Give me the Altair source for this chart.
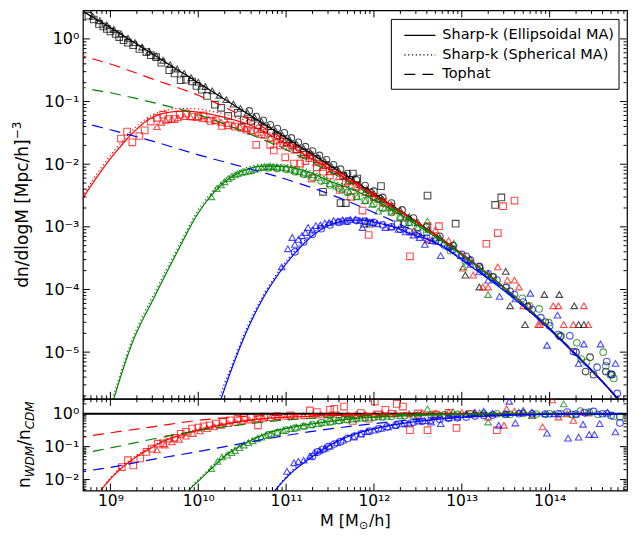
import altair as alt
import pandas as pd

# ---------------- data (log10 M, log10 value) ----------------
# top panel curves: dn/dlogM
CDM_LM = [8.687, 9.0, 9.5, 10.0, 10.5, 11.0, 11.5, 12.0, 12.5, 13.0, 13.5, 14.0, 14.25, 14.5, 14.75, 14.88]
CDM_LN = [0.44, 0.18, -0.26, -0.70, -1.14, -1.58, -2.02, -2.47, -2.93, -3.43, -3.99, -4.62, -4.97, -5.32, -5.70, -5.92]

RS_LM = [8.60, 8.69, 8.8, 8.9, 9.0, 9.1, 9.2, 9.3, 9.4, 9.5, 9.6, 9.7, 9.8, 9.9, 10.0, 10.2, 10.4, 10.6, 10.8, 11.0, 11.25, 11.5, 12.0, 12.5, 13.0, 13.5, 14.0, 14.25, 14.5, 14.75, 14.88]
RS_LN = [-2.78, -2.54, -2.30, -2.10, -1.91, -1.74, -1.58, -1.44, -1.32, -1.24, -1.19, -1.165, -1.155, -1.155, -1.17, -1.22, -1.29, -1.38, -1.52, -1.67, -1.88, -2.08, -2.50, -2.945, -3.43, -3.99, -4.62, -4.97, -5.32, -5.70, -5.92]
RD_LM = [8.60, 8.69, 8.8, 8.9, 9.0, 9.1, 9.2, 9.3, 9.4, 9.5, 9.6, 9.7, 9.8, 9.9, 10.0, 10.2, 10.4, 10.6, 10.8, 11.0, 11.25, 11.5, 12.0, 12.5, 13.0]
RD_LN = [-2.74, -2.50, -2.25, -2.05, -1.86, -1.69, -1.53, -1.39, -1.28, -1.20, -1.15, -1.12, -1.11, -1.11, -1.12, -1.17, -1.24, -1.34, -1.49, -1.64, -1.86, -2.07, -2.49, -2.94, -3.43]
RT_LM = [8.60, 8.69, 9.0, 9.5, 10.0, 10.5, 11.0, 11.5, 12.0, 12.5, 13.0, 13.5, 14.0, 14.5, 14.88]
RT_LN = [-0.22, -0.27, -0.40, -0.65, -0.90, -1.23, -1.62, -2.035, -2.475, -2.93, -3.43, -3.99, -4.62, -5.32, -5.92]

GS_LM = [8.95, 9.0, 9.25, 9.5, 9.75, 10.0, 10.25, 10.5, 10.75, 11.0, 11.25, 11.5, 11.75, 12.0, 12.5, 13.0, 13.5, 14.0, 14.25, 14.5, 14.75, 14.88]
GS_LN = [-6.15, -5.92, -4.85, -4.12, -3.43, -2.78, -2.35, -2.11, -2.03, -2.04, -2.12, -2.27, -2.40, -2.57, -2.98, -3.45, -4.00, -4.62, -4.97, -5.32, -5.70, -5.92]
GD_LM = [8.95, 9.0, 9.25, 9.5, 9.75, 10.0, 10.25, 10.5, 10.75, 11.0, 11.25, 11.5, 11.75, 12.0, 12.5, 13.0]
GD_LN = [-6.10, -5.86, -4.79, -4.06, -3.38, -2.73, -2.31, -2.08, -2.00, -2.01, -2.09, -2.24, -2.38, -2.56, -2.97, -3.45]
GT_LM = [8.60, 8.69, 9.0, 9.5, 10.0, 10.5, 11.0, 11.5, 12.0, 12.5, 13.0, 13.5, 14.0, 14.5, 14.88]
GT_LN = [-0.72, -0.77, -0.86, -1.02, -1.21, -1.47, -1.77, -2.12, -2.52, -2.95, -3.44, -3.99, -4.62, -5.32, -5.92]

BS_LM = [10.18, 10.26, 10.38, 10.56, 10.75, 10.94, 11.12, 11.31, 11.5, 11.68, 11.87, 12.05, 12.24, 12.43, 12.61, 12.8, 13.0, 13.5, 14.0, 14.25, 14.5, 14.75, 14.88]
BS_LN = [-6.05, -5.74, -5.27, -4.64, -4.11, -3.70, -3.39, -3.13, -2.97, -2.90, -2.89, -2.94, -3.01, -3.12, -3.20, -3.33, -3.53, -4.04, -4.64, -4.98, -5.33, -5.70, -5.92]
BD_LM = [10.16, 10.22, 10.38, 10.56, 10.75, 10.94, 11.12, 11.31, 11.5, 11.68, 11.87, 12.05, 12.24, 12.43, 12.61, 12.8, 13.0]
BD_LN = [-6.05, -5.80, -5.22, -4.59, -4.07, -3.66, -3.35, -3.09, -2.93, -2.86, -2.86, -2.92, -3.00, -3.10, -3.19, -3.31, -3.52]
BT_LM = [8.60, 8.69, 9.0, 9.5, 10.0, 10.5, 11.0, 11.5, 12.0, 12.5, 13.0, 13.5, 14.0, 14.5, 14.88]
BT_LN = [-1.28, -1.33, -1.45, -1.64, -1.85, -2.04, -2.24, -2.48, -2.77, -3.10, -3.51, -4.02, -4.63, -5.32, -5.92]

# bottom panel curves: n_WDM / n_CDM
R_RS_LM = [8.82, 8.89, 9.0, 9.15, 9.3, 9.45, 9.63, 9.86, 10.15, 10.45, 10.75, 11.27, 11.75, 12.5, 13.0, 14.88]
R_RS_LN = [-2.55, -2.33, -1.98, -1.60, -1.30, -1.06, -0.81, -0.60, -0.40, -0.25, -0.15, -0.08, -0.04, -0.015, 0.0, 0.0]
R_RD_LM = [8.84, 8.9, 9.0, 9.15, 9.3, 9.45, 9.63, 9.86, 10.15, 10.45, 10.75, 11.27, 11.75, 12.5, 13.0, 14.88]
R_RD_LN = [-2.45, -2.28, -1.95, -1.55, -1.26, -1.02, -0.78, -0.57, -0.37, -0.22, -0.13, -0.06, -0.03, -0.01, 0.0, 0.0]
R_RT_LM = [8.60, 8.67, 9.0, 9.5, 10.0, 10.5, 11.0, 11.5, 12.0, 12.5, 14.88]
R_RT_LN = [-0.74, -0.71, -0.58, -0.39, -0.20, -0.09, -0.04, -0.015, -0.005, 0.0, 0.0]
R_GS_LM = [9.82, 9.89, 10.0, 10.15, 10.34, 10.53, 10.75, 11.09, 11.46, 11.76, 12.0, 12.5, 13.0, 13.5, 14.0, 14.88]
R_GS_LN = [-2.55, -2.33, -2.05, -1.67, -1.21, -0.91, -0.63, -0.40, -0.25, -0.15, -0.10, -0.05, -0.02, -0.01, 0.0, 0.0]
R_GD_LM = [9.84, 9.9, 10.0, 10.15, 10.34, 10.53, 10.75, 11.09, 11.46, 11.76, 12.0, 12.5, 13.0, 14.88]
R_GD_LN = [-2.45, -2.28, -2.00, -1.62, -1.17, -0.87, -0.60, -0.38, -0.23, -0.14, -0.09, -0.04, -0.01, 0.0]
R_GT_LM = [8.60, 8.67, 9.0, 9.5, 10.0, 10.5, 11.0, 11.5, 12.0, 12.5, 13.0, 13.5, 14.88]
R_GT_LN = [-1.25, -1.21, -1.04, -0.76, -0.51, -0.33, -0.19, -0.10, -0.05, -0.02, -0.01, 0.0, 0.0]
R_BS_LM = [10.80, 10.86, 11.05, 11.27, 11.5, 11.76, 12.0, 12.31, 12.69, 13.06, 13.4, 13.8, 14.2, 14.88]
R_BS_LN = [-2.55, -2.37, -1.82, -1.36, -0.96, -0.64, -0.46, -0.30, -0.18, -0.10, -0.06, -0.03, -0.01, 0.0]
R_BD_LM = [10.82, 10.88, 11.05, 11.27, 11.5, 11.76, 12.0, 12.31, 12.69, 13.06, 13.4, 13.8, 14.2, 14.88]
R_BD_LN = [-2.50, -2.30, -1.77, -1.31, -0.92, -0.61, -0.44, -0.28, -0.17, -0.09, -0.05, -0.02, 0.0, 0.0]
R_BT_LM = [8.60, 8.67, 9.0, 9.5, 10.0, 10.5, 11.0, 11.5, 12.0, 12.5, 13.0, 13.5, 14.0, 14.88]
R_BT_LN = [-1.81, -1.77, -1.63, -1.38, -1.15, -0.90, -0.66, -0.46, -0.30, -0.17, -0.08, -0.03, -0.01, 0.0]
UNITY = [1.0]

# top panel simulation points
K_SQ_LM = [8.75, 8.81, 8.87, 8.92, 8.96, 9.00, 9.06, 9.10, 9.15, 9.20, 9.26, 9.33, 9.41, 9.46, 9.52, 9.58, 9.67, 9.73, 9.80, 9.86, 9.93, 9.98, 10.04, 10.10, 10.19, 10.26, 10.34, 10.45, 10.52, 10.60, 10.68, 10.75, 10.83, 10.90, 10.96, 11.01, 11.07, 11.12, 11.20, 11.27, 11.35, 11.45, 11.55, 11.65, 11.72, 11.95, 12.05,
           11.42, 11.62, 11.68, 11.76, 11.81, 12.08, 12.61, 13.45, 13.38, 12.93, 11.89, 11.95, 12.27, 12.35]
K_SQ_LN = [0.37, 0.31, 0.24, 0.20, 0.16, 0.12, 0.08, 0.03, -0.02, -0.06, -0.10, -0.16, -0.21, -0.26, -0.29, -0.38, -0.50, -0.55, -0.66, -0.65, -0.68, -0.75, -0.81, -0.91, -1.05, -1.10, -1.23, -1.18, -1.30, -1.31, -1.38, -1.44, -1.50, -1.55, -1.60, -1.65, -1.70, -1.76, -1.81, -1.86, -1.92, -2.01, -2.10, -2.19, -2.25, -2.45, -2.55,
           -2.44, -2.62, -2.62, -2.15, -2.23, -2.35, -2.50, -2.53, -2.65, -2.95, -2.95, -2.95, -2.96, -2.96]
K_TR_LM = [8.80, 8.88, 8.96, 9.04, 9.12, 9.20, 9.28, 9.36, 9.44, 9.52, 9.60, 9.68, 9.76, 9.84, 9.92, 10.00, 10.08, 10.16, 10.24, 10.32, 10.40, 10.48, 10.56, 10.64, 10.72, 10.80, 10.88, 10.96, 11.04, 11.12, 11.20, 11.28, 11.36, 11.44, 11.52, 11.60, 11.68, 11.76, 11.84, 11.92, 12.00, 12.10, 12.20, 12.30, 12.40, 12.50, 12.62, 12.75, 12.88,
           13.04, 13.20, 13.50, 13.55, 13.72, 13.94, 14.11, 14.28, 14.33, 14.39, 13.10, 13.30]
K_TR_LN = [0.36, 0.29, 0.22, 0.15, 0.08, 0.01, -0.06, -0.13, -0.20, -0.27, -0.34, -0.41, -0.48, -0.55, -0.62, -0.69, -0.76, -0.83, -0.90, -0.97, -1.04, -1.11, -1.18, -1.25, -1.32, -1.40, -1.47, -1.54, -1.61, -1.68, -1.75, -1.82, -1.89, -1.96, -2.04, -2.11, -2.18, -2.26, -2.33, -2.40, -2.47, -2.56, -2.65, -2.74, -2.84, -2.93, -3.04, -3.17, -3.31,
           -3.77, -3.96, -3.71, -4.26, -4.56, -4.08, -4.08, -4.26, -4.56, -4.56, -3.52, -3.75]
K_CI_LM = [10.58, 10.66, 10.74, 10.82, 10.90, 10.98, 11.06, 11.14, 11.22, 11.30, 11.38, 11.46, 11.54, 11.62, 11.70, 11.80, 11.90, 12.00, 12.10, 12.20, 12.32, 12.45, 12.60, 12.75, 12.90, 13.05, 13.20, 13.35, 13.55, 13.75, 13.95, 14.12, 14.41, 14.50, 14.64, 14.71, 14.46, 14.30]
K_CI_LN = [-1.15, -1.24, -1.30, -1.37, -1.43, -1.50, -1.58, -1.65, -1.72, -1.79, -1.86, -1.93, -2.01, -2.08, -2.15, -2.25, -2.34, -2.43, -2.53, -2.62, -2.73, -2.86, -3.00, -3.15, -3.30, -3.47, -3.64, -3.80, -4.03, -4.27, -4.52, -4.75, -5.31, -5.36, -5.31, -5.36, -5.08, -5.00]
R_SQ_LM = [9.12, 9.19, 9.25, 9.33, 9.39, 9.46, 9.53, 9.60, 9.66, 9.73, 9.79, 9.86, 9.93, 10.00, 10.06, 10.14, 10.20, 10.27, 10.34, 10.42, 10.49, 10.55, 10.60, 10.66, 10.72, 10.82, 10.86, 10.93, 10.99, 11.09, 11.16, 11.22, 11.29, 11.35, 11.42, 11.50, 11.61, 11.68, 11.74, 11.80, 11.87, 11.94, 12.00, 12.10, 12.20, 12.41, 12.61, 12.74, 13.28, 13.41, 13.47, 13.60]
R_SQ_LN = [-1.59, -1.48, -1.65, -1.55, -1.46, -1.32, -1.26, -1.21, -1.28, -1.28, -1.21, -1.19, -1.24, -1.24, -1.22, -1.31, -1.30, -1.39, -1.38, -1.40, -1.42, -1.45, -1.47, -1.69, -1.52, -1.69, -1.78, -1.70, -1.89, -1.99, -1.99, -1.95, -2.23, -2.05, -2.12, -2.18, -2.41, -2.30, -2.52, -2.36, -2.74, -3.13, -2.52, -2.60, -2.68, -3.47, -2.99, -2.99, -3.27, -3.10, -2.67, -2.58]
R_TR_LM = [9.53, 9.58, 9.63, 9.70, 9.77, 9.84, 9.91, 9.98, 10.05, 10.12, 10.19, 10.26, 10.33, 10.40, 10.47, 10.54, 10.61, 10.68, 10.75, 10.82, 10.89, 10.96, 11.03, 11.10, 11.18, 11.26, 11.34, 11.42, 11.50, 11.60, 11.70, 11.80, 11.90, 12.00, 12.12, 12.24, 12.36, 12.45, 12.61, 12.70, 12.85,
           13.01, 13.13, 13.24, 13.30, 13.41, 13.52, 13.60, 13.65, 13.70, 13.76, 13.87, 13.89, 14.04, 14.10, 14.16, 14.27, 14.39, 14.44]
R_TR_LN = [-1.40, -1.33, -1.30, -1.28, -1.26, -1.24, -1.24, -1.25, -1.27, -1.28, -1.30, -1.33, -1.35, -1.37, -1.40, -1.43, -1.46, -1.50, -1.54, -1.58, -1.63, -1.67, -1.73, -1.78, -1.85, -1.91, -1.98, -2.05, -2.12, -2.20, -2.28, -2.37, -2.45, -2.53, -2.63, -2.74, -2.84, -3.07, -3.21, -3.05, -3.22,
           -3.66, -3.77, -3.96, -3.96, -3.64, -3.85, -3.85, -3.96, -4.26, -4.26, -4.56, -4.56, -4.26, -4.26, -4.56, -4.56, -4.26, -4.56]
G_TR_LM = [10.15, 10.21, 10.26, 10.30, 10.34, 10.38, 10.42, 10.45, 10.49, 10.53, 10.57, 10.60, 10.64, 10.68, 10.72, 10.75, 10.79, 10.82, 10.86, 10.90, 10.95, 11.00, 11.05, 11.10, 11.15, 11.20, 11.25, 11.31, 11.37, 11.44, 11.50, 11.57, 11.64, 11.72, 11.81, 11.90, 11.98, 12.05, 12.12, 12.20, 12.30, 12.40, 12.50, 12.61, 12.70, 12.80, 12.91, 13.02, 13.30]
G_TR_LN = [-2.52, -2.39, -2.33, -2.28, -2.23, -2.20, -2.17, -2.15, -2.13, -2.12, -2.11, -2.10, -2.08, -2.06, -2.05, -2.04, -2.04, -2.03, -2.04, -2.05, -2.05, -2.06, -2.08, -2.10, -2.12, -2.14, -2.16, -2.17, -2.21, -2.26, -2.31, -2.35, -2.40, -2.44, -2.52, -2.58, -2.64, -2.75, -2.70, -2.76, -2.84, -2.93, -3.01, -2.91, -3.18, -3.25, -3.26, -3.64, -4.08]
G_CI_LM = [10.80, 10.90, 11.00, 11.10, 11.20, 11.30, 11.40, 11.50, 11.60, 11.70, 11.80, 11.90, 12.00, 12.10, 12.20, 12.30, 12.40, 12.50, 12.60, 12.70, 12.87, 13.04, 13.21, 13.36, 13.51, 13.69, 13.77, 13.88, 13.99, 14.13, 14.31, 14.36, 14.42, 14.61, 14.64, 14.69, 14.73]
G_CI_LN = [-2.06, -2.07, -2.08, -2.12, -2.16, -2.21, -2.27, -2.33, -2.38, -2.45, -2.51, -2.58, -2.63, -2.70, -2.77, -2.85, -2.93, -3.01, -3.09, -3.18, -3.38, -3.54, -3.67, -3.80, -3.96, -4.14, -4.26, -4.31, -4.53, -4.74, -4.85, -5.11, -5.16, -5.00, -5.22, -5.36, -5.42]
B_TR_LM = [10.95, 11.02, 11.07, 11.10, 11.14, 11.18, 11.22, 11.25, 11.30, 11.34, 11.39, 11.44, 11.49, 11.54, 11.59, 11.64, 11.68, 11.73, 11.79, 11.84, 11.87, 11.92, 11.98, 12.04, 12.13, 12.20, 12.28, 12.36, 12.45, 12.52, 12.58, 12.66, 12.76, 12.85, 12.99, 13.10, 13.20, 13.30, 13.43, 13.61, 13.78, 13.97, 14.09, 14.33, 14.39, 14.58, 14.75]
B_TR_LN = [-3.64, -3.35, -3.17, -3.28, -3.20, -3.14, -3.09, -3.01, -3.05, -2.98, -2.97, -2.94, -2.93, -2.90, -2.91, -2.89, -2.91, -2.88, -2.88, -2.90, -3.01, -2.91, -2.93, -2.95, -3.01, -3.00, -3.04, -3.08, -3.13, -3.17, -3.28, -3.22, -3.46, -3.32, -3.46, -3.60, -3.72, -3.85, -4.11, -4.15, -4.06, -4.89, -4.41, -5.18, -4.87, -4.87, -5.18]
B_CI_LM = [11.10, 11.20, 11.30, 11.40, 11.50, 11.60, 11.70, 11.80, 11.90, 12.00, 12.10, 12.20, 12.30, 12.40, 12.50, 12.60, 12.70, 12.80, 12.90, 13.00, 13.10, 13.20, 13.30, 13.40, 13.50, 13.60, 13.70, 13.80, 13.90, 14.00, 14.10, 14.23, 14.27, 14.54, 14.65, 14.70, 14.77]
B_CI_LN = [-3.40, -3.24, -3.12, -3.03, -2.97, -2.93, -2.91, -2.90, -2.91, -2.93, -2.97, -3.00, -3.04, -3.08, -3.12, -3.18, -3.23, -3.29, -3.36, -3.44, -3.53, -3.63, -3.75, -3.85, -3.97, -4.08, -4.20, -4.32, -4.45, -4.58, -4.72, -4.74, -4.99, -5.24, -5.15, -5.35, -5.66]

# bottom panel simulation points (ratios)
RR_SQ_LM = [9.13, 9.20, 9.26, 9.34, 9.41, 9.47, 9.54, 9.60, 9.67, 9.73, 9.80, 9.86, 9.93, 10.00, 10.06, 10.13, 10.20, 10.28, 10.36, 10.45, 10.52, 10.60, 10.68, 10.75, 10.90, 11.05, 11.27, 11.35, 11.50, 11.55, 11.66, 11.76, 11.85, 11.94, 12.01, 12.05, 12.13, 12.20, 12.26, 12.33, 12.41, 12.50, 12.61, 12.70, 12.85, 12.94, 13.10, 13.40]
RR_SQ_LN = [-1.62, -1.41, -1.57, -1.36, -1.16, -1.06, -0.91, -0.90, -0.76, -0.73, -0.61, -0.55, -0.45, -0.42, -0.38, -0.35, -0.30, -0.25, -0.20, -0.15, -0.13, -0.11, -0.35, -0.09, -0.07, -0.05, 0.10, 0.05, 0.12, 0.15, 0.22, -0.22, 0.02, -0.15, 0.37, -0.02, 0.12, 0.00, 0.30, 0.22, -0.50, 0.01, -0.50, -0.02, 0.03, -0.43, 0.00, -0.50]
RR_TR_LM = [9.53, 9.62, 9.70, 9.78, 9.86, 9.94, 10.02, 10.10, 10.18, 10.26, 10.34, 10.42, 10.50, 10.58, 10.66, 10.74, 10.82, 10.90, 11.0, 11.1, 11.2, 11.3, 11.4, 11.5, 11.6, 11.7, 11.8, 11.9, 12.0, 12.1, 12.25, 12.4, 12.55, 12.7, 12.85, 13.0, 13.15, 13.3, 13.48, 13.51, 13.6, 13.7, 13.8, 13.92, 14.03, 14.10, 14.2, 14.27, 14.37, 14.44]
RR_TR_LN = [-1.10, -0.95, -0.85, -0.78, -0.68, -0.60, -0.52, -0.45, -0.40, -0.35, -0.30, -0.26, -0.22, -0.19, -0.16, -0.14, -0.12, -0.10, -0.08, -0.07, -0.06, -0.05, -0.04, -0.04, -0.03, -0.03, -0.02, -0.02, -0.01, -0.01, 0.00, 0.00, 0.03, 0.02, 0.05, 0.04, 0.00, -0.10, -0.35, 0.15, 0.08, 0.04, -0.05, -0.40, 0.42, -0.10, 0.00, -0.20, 0.05, 0.02]
RG_TR_LM = [10.15, 10.22, 10.27, 10.33, 10.38, 10.42, 10.47, 10.52, 10.57, 10.62, 10.67, 10.72, 10.77, 10.83, 10.90, 10.97, 11.05, 11.12, 11.20, 11.28, 11.36, 11.44, 11.52, 11.60, 11.68, 11.76, 11.85, 11.95, 12.05, 12.15, 12.30, 12.45, 12.61, 12.75, 12.90, 13.05, 13.20, 13.30, 13.50, 13.65, 13.80, 13.95, 14.16, 14.30, 14.45]
RG_TR_LN = [-1.67, -1.45, -1.31, -1.26, -1.18, -1.12, -1.03, -0.95, -0.88, -0.82, -0.76, -0.71, -0.66, -0.61, -0.56, -0.51, -0.45, -0.41, -0.37, -0.34, -0.30, -0.26, -0.23, -0.21, -0.18, -0.16, -0.13, -0.11, -0.09, -0.08, -0.06, -0.05, 0.15, -0.03, 0.06, -0.02, 0.03, -0.25, 0.00, 0.05, -0.05, 0.00, 0.30, -0.02, 0.05]
RG_CI_LM = [10.8, 10.9, 11.0, 11.1, 11.2, 11.3, 11.4, 11.5, 11.6, 11.7, 11.8, 11.9, 12.0, 12.1, 12.2, 12.35, 12.5, 12.65, 12.8, 12.95, 13.1, 13.25, 13.4, 13.55, 13.7, 13.85, 14.0, 14.13, 14.25, 14.35, 14.45, 14.55, 14.65, 14.73, 14.80]
RG_CI_LN = [-0.64, -0.57, -0.50, -0.44, -0.38, -0.33, -0.28, -0.25, -0.21, -0.18, -0.15, -0.13, -0.11, -0.10, -0.08, -0.06, -0.05, -0.04, -0.03, -0.02, -0.01, 0.00, 0.00, -0.02, 0.01, -0.01, 0.00, 0.00, -0.02, 0.08, 0.05, -0.02, 0.00, -0.08, -0.09]
RB_TR_LM = [11.01, 11.09, 11.14, 11.20, 11.27, 11.32, 11.38, 11.44, 11.50, 11.58, 11.65, 11.77, 11.85, 11.92, 12.00, 12.08, 12.16, 12.24, 12.32, 12.40, 12.50, 12.58, 12.65, 12.76, 12.85, 12.95, 13.05, 13.15, 13.25, 13.35, 13.42, 13.54, 13.61, 13.70, 13.80, 13.97, 14.05, 14.21, 14.33, 14.38, 14.45, 14.51, 14.57, 14.66, 14.75]
RB_TR_LN = [-1.75, -1.49, -1.45, -1.41, -1.29, -1.18, -1.11, -1.05, -0.98, -0.88, -0.80, -0.71, -0.62, -0.54, -0.50, -0.44, -0.40, -0.35, -0.31, -0.28, -0.22, -0.21, -0.25, -0.30, -0.12, -0.10, 0.00, 0.05, 0.08, 0.02, -0.35, 0.38, -0.28, 0.10, 0.05, -0.59, 0.00, -0.74, -0.71, -0.32, -0.63, -0.63, -0.30, 0.05, -0.55]
RB_CI_LM = [11.30, 11.36, 11.42, 11.48, 11.55, 11.62, 11.70, 11.78, 11.86, 11.95, 12.05, 12.15, 12.25, 12.35, 12.45, 12.55, 12.65, 12.75, 12.85, 12.95, 13.05, 13.15, 13.25, 13.35, 13.50, 13.65, 13.80, 13.95, 14.10, 14.20, 14.30, 14.40, 14.50, 14.60, 14.70, 14.80]
RB_CI_LN = [-1.30, -1.16, -1.08, -1.00, -0.92, -0.85, -0.75, -0.68, -0.60, -0.53, -0.46, -0.40, -0.35, -0.30, -0.26, -0.23, -0.20, -0.17, -0.14, -0.12, -0.10, -0.07, -0.05, -0.04, -0.02, 0.00, 0.00, -0.01, 0.00, 0.05, -0.01, 0.03, 0.07, 0.00, -0.05, -0.28]

LEGEND_LABELS = ["Sharp-k (Ellipsoidal MA)", "Sharp-k (Spherical MA)", "Tophat"]
LEGEND_STYLES = ["solid", "dotted", "dashed"]

X_MAJOR = [1e9, 1e10, 1e11, 1e12, 1e13, 1e14]
X_EXP = [9, 10, 11, 12, 13, 14]
YT_MAJOR = [1e-5, 1e-4, 1e-3, 1e-2, 1e-1, 1e0]
YT_EXP = [-5, -4, -3, -2, -1, 0]
YB_MAJOR = [1e-2, 1e-1, 1e0]
YB_EXP = [-2, -1, 0]

# ---------------- styling / layout ----------------
FONT = "DejaVu Sans"
COL_KEYS = ["k", "r", "g", "b"]
COL_HEX = ["#000000", "#ff0000", "#008000", "#0000ff"]
DASHES = [[1, 0], [1.2, 2.6], [11, 7]]
MK_KEYS = ["s", "t", "o"]
MK_SHAPES = ["square", "triangle-up", "circle"]

W, H_TOP, H_BOT = 545, 389, 92
X_DOM = [4.86e8, 7.6e14]
YT_DOM = [1.8e-6, 2.85]
YB_DOM = [4.6e-3, 2.85]
MAJ_LEN, MIN_LEN = 7, 3.5

SUP = {"0": "⁰", "1": "¹", "2": "²", "3": "³", "4": "⁴", "5": "⁵",
       "6": "⁶", "7": "⁷", "8": "⁸", "9": "⁹", "-": "⁻"}


def sup_expr(exps):
    parts = []
    for e in exps:
        s = "10" + "".join(SUP[c] for c in str(e))
        parts.append(f"round(log(datum.value)/LN10)=={e} ? '{s}'")
    return " : ".join(parts) + " : ''"


def minor_ticks(lo, hi):
    out = []
    for d in range(-8, 16):
        for k in range(2, 10):
            v = k * 10.0 ** d
            if lo <= v <= hi:
                out.append(v)
    return out


xs = alt.Scale(type="log", domain=X_DOM, nice=False)
yts = alt.Scale(type="log", domain=YT_DOM, nice=False)
ybs = alt.Scale(type="log", domain=YB_DOM, nice=False)
cscale = alt.Scale(domain=COL_KEYS, range=COL_HEX)
dscale = alt.Scale(domain=LEGEND_STYLES, range=DASHES)
sscale = alt.Scale(domain=MK_KEYS, range=MK_SHAPES)

common_ax = dict(ticks=False, tickSize=0, domain=False, grid=False, labelFont=FONT,
                 labelColor="black", title=None, labelOverlap=False, labelFlush=False)
X_AX_BOT = alt.Axis(values=X_MAJOR, labelExpr=sup_expr(X_EXP), labelPadding=3, labelFontSize=15.5, **common_ax)
YT_AX = alt.Axis(values=YT_MAJOR, labelExpr=sup_expr(YT_EXP), labelPadding=4, labelFontSize=16, **common_ax)
YB_AX = alt.Axis(values=YB_MAJOR, labelExpr=sup_expr(YB_EXP), labelPadding=4, labelFontSize=16, **common_ax)


def line_df(specs):
    rows = []
    for key, col, sty, lm, lv in specs:
        for i, (a, b) in enumerate(zip(lm, lv)):
            rows.append({"key": key, "col": col, "sty": sty, "i": i, "M": 10 ** a, "v": 10 ** b})
    return pd.DataFrame(rows)


def pts_df(specs):
    rows = []
    for col, mk, lm, lv in specs:
        for a, b in zip(lm, lv):
            rows.append({"col": col, "mk": mk, "M": 10 ** a, "v": 10 ** b})
    return pd.DataFrame(rows)


def lines_layer(df, xax, ys, yax):
    return alt.Chart(df).mark_line(clip=True, strokeWidth=1.2, interpolate="monotone").encode(
        x=alt.X("M:Q", scale=xs, axis=xax),
        y=alt.Y("v:Q", scale=ys, axis=yax),
        color=alt.Color("col:N", scale=cscale, legend=None),
        strokeDash=alt.StrokeDash("sty:N", scale=dscale, legend=None),
        detail="key:N",
        order="i:Q",
    )


def pts_layer(df, xax, ys, yax):
    return alt.Chart(df).mark_point(clip=True, filled=False, size=44, strokeWidth=1.1).encode(
        x=alt.X("M:Q", scale=xs, axis=xax),
        y=alt.Y("v:Q", scale=ys, axis=yax),
        color=alt.Color("col:N", scale=cscale, legend=None),
        shape=alt.Shape("mk:N", scale=sscale, legend=None),
    )


def tick_layers(xax, ys, yax, ydom, ymajor, H):
    layers = []
    for vals, ln in ((X_MAJOR, MAJ_LEN), (minor_ticks(*X_DOM), MIN_LEN)):
        b = alt.Chart(pd.DataFrame({"t": vals}))
        layers.append(b.mark_rule(color="black", strokeWidth=1).encode(
            x=alt.X("t:Q", scale=xs, axis=xax), y=alt.value(0), y2=alt.value(ln)))
        layers.append(b.mark_rule(color="black", strokeWidth=1).encode(
            x=alt.X("t:Q", scale=xs, axis=xax), y=alt.value(H), y2=alt.value(H - ln)))
    for vals, ln in ((ymajor, MAJ_LEN), (minor_ticks(*ydom), MIN_LEN)):
        b = alt.Chart(pd.DataFrame({"t": vals}))
        layers.append(b.mark_rule(color="black", strokeWidth=1).encode(
            y=alt.Y("t:Q", scale=ys, axis=yax), x=alt.value(0), x2=alt.value(ln)))
        layers.append(b.mark_rule(color="black", strokeWidth=1).encode(
            y=alt.Y("t:Q", scale=ys, axis=yax), x=alt.value(W - 0.5), x2=alt.value(W - ln)))
    return layers


one = pd.DataFrame({"a": [0]})


def txt(s, x, y, size=17, angle=None, align="left", baseline="alphabetic", dx=0, dy=0, style="normal"):
    kw = dict(font=FONT, fontSize=size, color="black", align=align, baseline=baseline, dx=dx, dy=dy, fontStyle=style)
    if angle is not None:
        kw["angle"] = angle
    return alt.Chart(one).mark_text(**kw).encode(x=alt.value(x), y=alt.value(y), text=alt.value(s))


# ---------------- top panel ----------------
top_cdm = line_df([("cdm", "k", "solid", CDM_LM, CDM_LN)])
top_wdm = line_df([
    ("rs", "r", "solid", RS_LM, RS_LN), ("rd", "r", "dotted", RD_LM, RD_LN), ("rt", "r", "dashed", RT_LM, RT_LN),
    ("gs", "g", "solid", GS_LM, GS_LN), ("gd", "g", "dotted", GD_LM, GD_LN), ("gt", "g", "dashed", GT_LM, GT_LN),
    ("bs", "b", "solid", BS_LM, BS_LN), ("bd", "b", "dotted", BD_LM, BD_LN), ("bt", "b", "dashed", BT_LM, BT_LN),
])
top_pts = pts_df([
    ("k", "s", K_SQ_LM, K_SQ_LN), ("k", "t", K_TR_LM, K_TR_LN), ("k", "o", K_CI_LM, K_CI_LN),
    ("r", "s", R_SQ_LM, R_SQ_LN), ("r", "t", R_TR_LM, R_TR_LN),
    ("g", "t", G_TR_LM, G_TR_LN), ("g", "o", G_CI_LM, G_CI_LN),
    ("b", "t", B_TR_LM, B_TR_LN), ("b", "o", B_CI_LM, B_CI_LN),
])

top_layers = [
    pts_layer(top_pts, None, yts, YT_AX),
    lines_layer(top_cdm, None, yts, YT_AX),
    lines_layer(top_wdm, None, yts, YT_AX),
] + tick_layers(None, yts, YT_AX, YT_DOM, YT_MAJOR, H_TOP)

# legend box
LX = W - 8 - 228
top_layers.append(alt.Chart(one).mark_rect(fill="white", stroke="black", strokeWidth=1).encode(
    x=alt.value(LX), x2=alt.value(LX + 228), y=alt.value(9), y2=alt.value(79)))
for k, (lab, sty) in enumerate(zip(LEGEND_LABELS, LEGEND_STYLES)):
    yy = 25 + 19.5 * k
    top_layers.append(alt.Chart(one).mark_rule(color="black", strokeWidth=1.2,
                                                 strokeDash=DASHES[LEGEND_STYLES.index(sty)]).encode(
        x=alt.value(LX + 13), x2=alt.value(LX + 44), y=alt.value(yy)))
    top_layers.append(txt(lab, LX + 51, yy, size=14.5, baseline="middle"))

# y title (rotated), with superscript
cy = H_TOP / 2
y0 = cy + 166.4 / 2
top_layers.append(txt("dn/dlogM [Mpc/h]", -55, y0, angle=270))
top_layers.append(txt("−3", -55, y0, size=12, angle=270, dx=148.7, dy=-7))
# invisible marker that fixes the left extent of the figure
top_layers.append(alt.Chart(one).mark_rule(opacity=0).encode(
    x=alt.value(-74), x2=alt.value(-70), y=alt.value(100)))

top = alt.layer(*top_layers).properties(width=W, height=H_TOP)

# ---------------- bottom panel ----------------
bot_lines = line_df([
    ("rs", "r", "solid", R_RS_LM, R_RS_LN), ("rd", "r", "dotted", R_RD_LM, R_RD_LN), ("rt", "r", "dashed", R_RT_LM, R_RT_LN),
    ("gs", "g", "solid", R_GS_LM, R_GS_LN), ("gd", "g", "dotted", R_GD_LM, R_GD_LN), ("gt", "g", "dashed", R_GT_LM, R_GT_LN),
    ("bs", "b", "solid", R_BS_LM, R_BS_LN), ("bd", "b", "dotted", R_BD_LM, R_BD_LN), ("bt", "b", "dashed", R_BT_LM, R_BT_LN),
])
bot_pts = pts_df([
    ("r", "s", RR_SQ_LM, RR_SQ_LN), ("r", "t", RR_TR_LM, RR_TR_LN),
    ("g", "t", RG_TR_LM, RG_TR_LN), ("g", "o", RG_CI_LM, RG_CI_LN),
    ("b", "t", RB_TR_LM, RB_TR_LN), ("b", "o", RB_CI_LM, RB_CI_LN),
])

bot_layers = [
    pts_layer(bot_pts, X_AX_BOT, ybs, YB_AX),
    alt.Chart(pd.DataFrame({"u": UNITY})).mark_rule(color="black", strokeWidth=2).encode(
        y=alt.Y("u:Q", scale=ybs, axis=YB_AX)),
    lines_layer(bot_lines, X_AX_BOT, ybs, YB_AX),
] + tick_layers(X_AX_BOT, ybs, YB_AX, YB_DOM, YB_MAJOR, H_BOT)

# y title n_WDM / n_CDM (rotated)
by0 = H_BOT / 2 + 86.8 / 2
bot_layers += [
    txt("n", -53, by0, angle=270),
    txt("WDM", -53, by0, size=12, angle=270, dx=10.8, dy=4, style="italic"),
    txt("/n", -53, by0, angle=270, dx=42.3),
    txt("CDM", -53, by0, size=12, angle=270, dx=58.8, dy=4, style="italic"),
]
# x title M [M_sun/h]
XT_Y = 127
XT_X = W / 2 - 35
bot_layers += [
    txt("M [M", XT_X, XT_Y, size=16),
    txt("⊙", XT_X, XT_Y, size=11, dx=39.0, dy=3),
    txt("/h]", XT_X, XT_Y, size=16, dx=49.0),
]

bottom = alt.layer(*bot_layers).properties(width=W, height=H_BOT)

chart = alt.vconcat(top, bottom, spacing=0, bounds="flush").properties(padding=0).configure_view(
    stroke="black", strokeWidth=1.2)

chart.save("out.html", embed_options={"renderer": "svg", "actions": False})
